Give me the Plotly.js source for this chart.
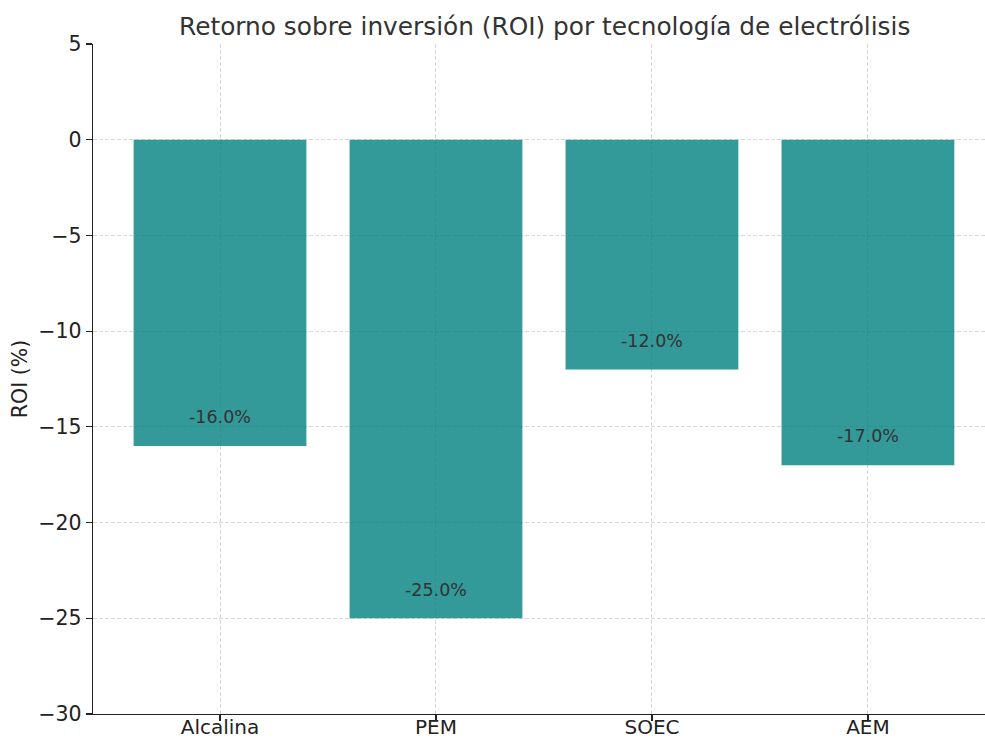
<!DOCTYPE html>
<html>
<head>
<meta charset="utf-8">
<script src="https://cdn.plot.ly/plotly-3.0.1.min.js"></script>
<style>html,body{margin:0;padding:0;background:#fff;}#chart{width:985px;height:738px;}</style>
</head>
<body>
<div id="chart"></div>
<script>
const categories = ["Alcalina", "PEM", "SOEC", "AEM"];
const roiValues = [-16.0, -25.0, -12.0, -17.0];
const yTickValues = [5, 0, -5, -10, -15, -20, -25, -30];
const yTickLabels = ["5", "0", "\u22125", "\u221210", "\u221215", "\u221220", "\u221225", "\u221230"];

const font = "DejaVu Sans, sans-serif";

const trace = {
  type: "bar",
  x: categories,
  y: roiValues,
  width: 0.8,
  marker: { color: "rgba(0,128,128,0.8)", line: { width: 0 } },
  hoverinfo: "skip"
};

const annotations = roiValues.map((v, i) => ({
  x: categories[i],
  y: v + 1.5,
  xref: "x",
  yref: "y",
  text: v.toFixed(1) + "%",
  showarrow: false,
  font: { family: font, size: 17.5, color: "#333333" },
  xanchor: "center",
  yanchor: "middle"
}));

const layout = {
  width: 985,
  height: 738,
  margin: { l: 93, r: 0, t: 44, b: 24, pad: 0 },
  paper_bgcolor: "#ffffff",
  plot_bgcolor: "#ffffff",
  showlegend: false,
  title: {
    text: "Retorno sobre inversión (ROI) por tecnología de electrólisis",
    font: { family: font, size: 24.8, color: "#333333" },
    x: 0.553,
    xanchor: "center",
    y: 0.965,
    yanchor: "middle"
  },
  xaxis: {
    type: "category",
    range: [-0.588, 3.542],
    showline: true,
    linecolor: "#222222",
    linewidth: 1.3,
    mirror: false,
    ticks: "outside",
    ticklen: 6,
    tickwidth: 1.2,
    tickcolor: "#222222",
    ticklabelstandoff: -11,
    tickfont: { family: font, size: 20, color: "#222222" },
    showgrid: true,
    gridcolor: "#d4d4d4",
    griddash: "4px,2px",
    gridwidth: 0.9,
    zeroline: false,
    fixedrange: true
  },
  yaxis: {
    range: [-30, 5],
    tickvals: yTickValues,
    ticktext: yTickLabels,
    showline: true,
    linecolor: "#222222",
    linewidth: 1.3,
    ticks: "outside",
    ticklen: 6,
    tickwidth: 1.2,
    tickcolor: "#222222",
    tickfont: { family: font, size: 20.5, color: "#222222" },
    showgrid: true,
    gridcolor: "#d4d4d4",
    griddash: "4px,2px",
    gridwidth: 0.9,
    zeroline: false,
    title: {
      text: "ROI (%)",
      font: { family: font, size: 20.5, color: "#222222" },
      standoff: 5
    },
    fixedrange: true
  },
  annotations: annotations
};

Plotly.newPlot("chart", [trace], layout, { displayModeBar: false, staticPlot: true });
</script>
</body>
</html>
